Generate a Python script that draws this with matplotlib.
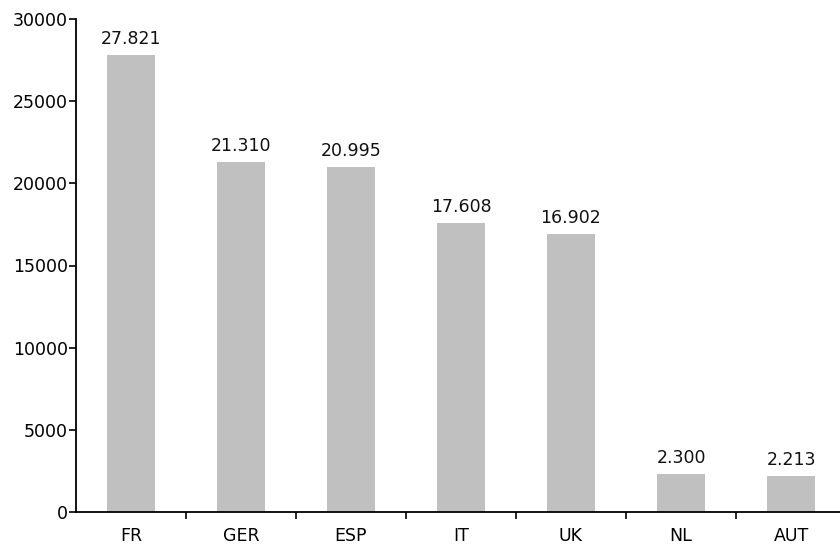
import matplotlib
matplotlib.use("Agg")
import matplotlib.pyplot as plt

# Data
countries = ["FR", "GER", "ESP", "IT", "UK", "NL", "AUT"]
values = [27821, 21310, 20995, 17608, 16902, 2300, 2213]
value_labels = ["27.821", "21.310", "20.995", "17.608", "16.902", "2.300", "2.213"]
y_ticks = [0, 5000, 10000, 15000, 20000, 25000, 30000]

W, H = 840, 545
fig = plt.figure(figsize=(W / 100, H / 100), dpi=100)
ax = fig.add_axes([76 / W, 33 / H, 770 / W, 493 / H])

x = list(range(len(countries)))
ax.bar(x, values, width=0.44, color="#c0c0c0")

for xi, v, lab in zip(x, values, value_labels):
    ax.annotate(lab, (xi, v), xytext=(0, 5), textcoords="offset points",
                ha="center", va="bottom", fontsize=12.5, color="#111111")

ax.set_xlim(-0.5, len(countries) - 0.5)
ax.set_ylim(0, 30000)
ax.set_yticks(y_ticks)
ax.set_yticklabels([str(t) for t in y_ticks])

# category labels sit in the middle, tick marks on the boundaries
ax.set_xticks(x)
ax.set_xticklabels(countries)
ax.set_xticks([i + 0.5 for i in x[:-1]], minor=True)
ax.tick_params(axis="x", which="major", length=0, pad=11, labelsize=12.5)
ax.tick_params(axis="x", which="minor", length=5, width=1.2, direction="out")
ax.tick_params(axis="y", length=5, width=1.2, direction="out", pad=1, labelsize=12.5)

for side in ("top", "right"):
    ax.spines[side].set_visible(False)
for side in ("left", "bottom"):
    ax.spines[side].set_linewidth(1.3)

fig.savefig("out.png", dpi=100)
